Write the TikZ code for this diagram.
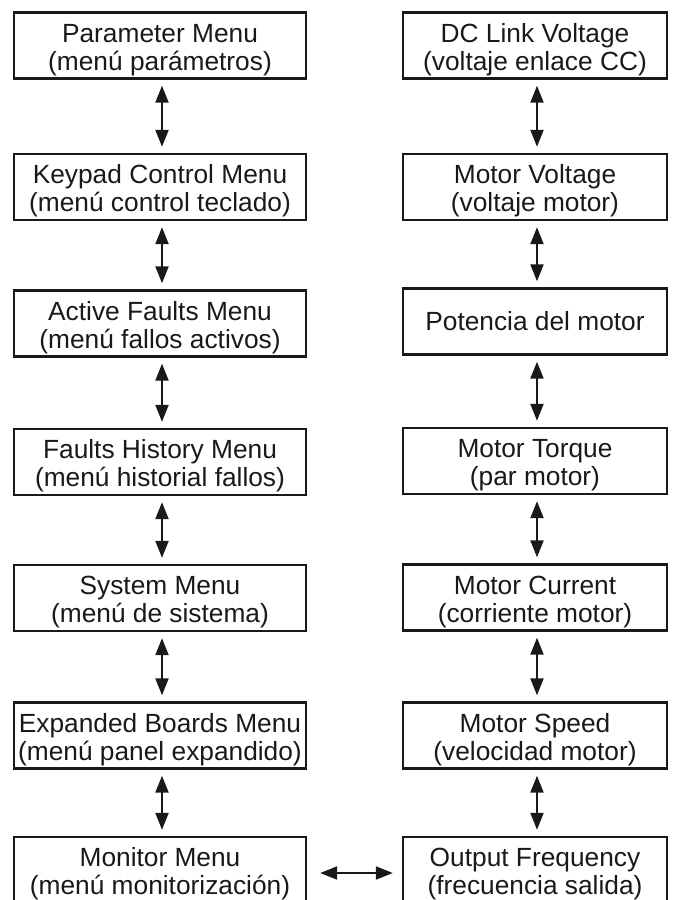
\documentclass[tikz,border=0pt]{standalone}
\usepackage{fontspec}
\setmainfont{Liberation Sans}
\usetikzlibrary{arrows.meta}
% invisible strut that sets the first line of a two-line label a little lower
\newcommand{\tallstrut}{\rule{0pt}{27pt}}
\begin{document}
\begin{tikzpicture}[x=1pt,y=-1pt,
  menubox/.style={draw=black!90, line width=2.4pt, rectangle, inner sep=0pt,
    minimum height=66pt, align=center,
    font=\fontsize{26.3}{28}\selectfont, text=black!90},
  leftbox/.style={menubox, minimum width=292pt},
  rightbox/.style={menubox, minimum width=264pt},
  link/.style={draw=black!90, line width=2.2pt,
    {Triangle[width=13pt,length=17pt]}-{Triangle[width=13pt,length=17pt]},
    shorten <=6pt, shorten >=6pt}]
\useasboundingbox (0,0) rectangle (674,900);
\clip (0,0) rectangle (674,900);

% menu column
\node[leftbox] (par) at (160,45.5)  {\tallstrut Parameter Menu\\(menú parámetros)};
\node[leftbox] (key) at (160,187)   {\tallstrut Keypad Control Menu\\(menú control teclado)};
\node[leftbox] (act) at (160,323.5) {\tallstrut Active Faults Menu\\(menú fallos activos)};
\node[leftbox] (his) at (160,462)   {\tallstrut Faults History Menu\\(menú historial fallos)};
\node[leftbox] (sys) at (160,598)   {\tallstrut System Menu\\(menú de sistema)};
\node[leftbox] (exp) at (160,735.5) {\tallstrut Expanded Boards Menu\\(menú panel expandido)};
\node[leftbox] (mon) at (160,870)   {\tallstrut Monitor Menu\\(menú monitorización)};

% monitor values column
\node[rightbox] (dcl) at (535,45.5)  {\tallstrut DC Link Voltage\\(voltaje enlace CC)};
\node[rightbox] (mvo) at (535,187)   {\tallstrut Motor Voltage\\(voltaje motor)};
\node[rightbox] (pot) at (535,321.5) {Potencia del motor};
\node[rightbox] (tor) at (535,461)   {\tallstrut Motor Torque\\(par motor)};
\node[rightbox] (cur) at (535,597.5) {\tallstrut Motor Current\\(corriente motor)};
\node[rightbox] (spd) at (535,735.5) {\tallstrut Motor Speed\\(velocidad motor)};
\node[rightbox] (frq) at (535,870)   {\tallstrut Output Frequency\\(frecuencia salida)};

% vertical links
\foreach \a/\b in {par/key,key/act,act/his,his/sys,sys/exp,exp/mon}
  \draw[link] ([xshift=2pt]\a.south) -- ([xshift=2pt]\b.north);
\foreach \a/\b in {dcl/mvo,mvo/pot,pot/tor,tor/cur,cur/spd,spd/frq}
  \draw[link] ([xshift=2pt]\a.south) -- ([xshift=2pt]\b.north);

% link between the two columns
\draw[link, shorten <=13pt, shorten >=9pt] ([yshift=-3pt]mon.east) -- ([yshift=-3pt]frq.west);
\end{tikzpicture}
\end{document}
